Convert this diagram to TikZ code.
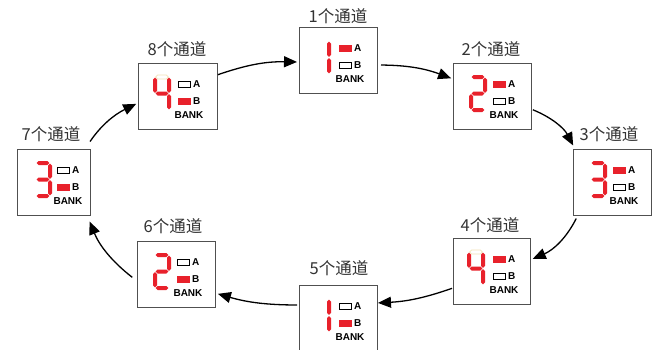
\documentclass[tikz,border=0pt]{standalone}
\usepackage{fontspec}
\setmainfont{Liberation Sans}
\newfontfamily\cjk{Noto Sans CJK SC}
\usetikzlibrary{arrows.meta}
\definecolor{segred}{HTML}{E8212B}
\definecolor{framegray}{HTML}{505050}
\definecolor{labelgray}{HTML}{333333}
\definecolor{ghost}{HTML}{F2E2B6}
\tikzset{
  chbox/.style={draw=framegray, line width=0.8pt, minimum height=66pt, inner sep=0pt, outer sep=0pt},
  segon/.style={fill=segred},
  segghost/.style={draw=ghost, line width=0.6pt},
  indon/.style={fill=segred},
  indoff/.style={draw=black, line width=0.6pt},
  indlbl/.style={inner sep=0pt, anchor=base west, font=\bfseries\fontsize{10}{12}\selectfont},
  banklbl/.style={inner sep=0pt, anchor=base, font=\bfseries\fontsize{10}{12}\selectfont},
  chlbl/.style={inner sep=0pt, text=labelgray, font=\cjk\fontsize{16.5}{19}\selectfont},
  arr/.style={-{Triangle[length=13pt,width=11pt]}, line width=1.3pt, black},
}
% horizontal / vertical hexagonal segment (half thickness 2)
\newcommand\MyHsg[4]{\path[#4] ({#1},{#3}) -- ({#1+2},{#3-2}) -- ({#2-2},{#3-2}) -- ({#2},{#3}) -- ({#2-2},{#3+2}) -- ({#1+2},{#3+2}) -- cycle;}
\newcommand\MyVsg[4]{\path[#4] ({#1},{#2}) -- ({#1+2},{#2+2}) -- ({#1+2},{#3-2}) -- ({#1},{#3}) -- ({#1-2},{#3-2}) -- ({#1-2},{#2+2}) -- cycle;}
\newcommand\MySega{\MyHsg{2.6}{15.4}{2}{segon}}
\newcommand\MySegb{\MyVsg{16}{2.6}{17.9}{segon}}
\newcommand\MySegc{\MyVsg{16}{19.1}{34.4}{segon}}
\newcommand\MySegd{\MyHsg{2.6}{15.4}{35}{segon}}
\newcommand\MySege{\MyVsg{2}{19.1}{34.4}{segon}}
\newcommand\MySegf{\MyVsg{2}{2.6}{17.9}{segon}}
\newcommand\MySegg{\MyHsg{2.6}{15.4}{18.5}{segon}}
\newcommand\MySegga{\MyHsg{2.6}{15.4}{2}{segghost}}
% #1 name, #2 x, #3 y, #4 width, #5 segments, #6 digit x offset, #7 A style, #8 B style
\newcommand\chanbox[8]{%
  \node[chbox, minimum width=#4pt, anchor=north west] (#1) at (#2,#3) {};
  \begin{scope}[shift={(#1.north west)}]
    \begin{scope}[shift={(#6,12)}]
      \foreach \s in {#5}{\csname MySeg\s\endcsname}
    \end{scope}
    \path[#7] (40,18) rectangle (52.5,24.5);
    \path[#8] (40,35) rectangle (52.5,41.5);
    \node[indlbl] (#1A) at (55,24.5) {A};
    \node[indlbl] (#1B) at (55,41.5) {B};
    \node[banklbl] (#1K) at (51,55.5) {BANK};
  \end{scope}}
\begin{document}
\begin{tikzpicture}[x=1pt,y=-1pt]
\useasboundingbox (0,0) rectangle (658,349);
\clip (0,0) rectangle (658,349);
\fill[white] (0,0) rectangle (658,349);

\chanbox{b1}{299}{27}{78}{b,c}{14}{indon}{indoff}
\chanbox{b2}{453}{63}{78}{a,b,g,e,d}{16}{indon}{indoff}
\chanbox{b3}{573}{149}{78}{a,b,g,c,d}{16}{indon}{indoff}
\chanbox{b4}{453}{238}{77}{ga,f,g,b,c}{14}{indon}{indoff}
\chanbox{b5}{299}{285}{78}{b,c}{14}{indoff}{indon}
\chanbox{b6}{137}{241}{78}{a,b,g,e,d}{16}{indoff}{indon}
\chanbox{b7}{17}{149}{73}{a,b,g,c,d}{17}{indoff}{indon}
\chanbox{b8}{138}{63}{79}{ga,f,g,b,c}{15}{indoff}{indon}

\node[chlbl] (l1) at (338,16) {1个通道};
\node[chlbl] (l2) at (491,49) {2个通道};
\node[chlbl] (l3) at (609,134) {3个通道};
\node[chlbl] (l4) at (490,225) {4个通道};
\node[chlbl] (l5) at (339,268) {5个通道};
\node[chlbl] (l6) at (173,226) {6个通道};
\node[chlbl] (l7) at (51,134) {7个通道};
\node[chlbl] (l8) at (177,49) {8个通道};

\draw[arr, shorten <=1pt, shorten >=2pt] ([yshift=-12pt]b8.north east) to[bend left=10] ([yshift=-2pt]b1.west);
\draw[arr, shorten <=4pt, shorten >=2pt] ([yshift=-5pt]b1.east) to[bend left=10] ([yshift=-16pt]b2.north west);
\draw[arr, shorten <=2pt, shorten >=4pt] ([yshift=-46pt]b2.north east) to[bend left=20] ([xshift=2pt]b3.north west);
\draw[arr, shorten <=4pt, shorten >=3pt] ([xshift=5pt]b3.south west) to[bend left=20] ([yshift=11pt]b4.east);
\draw[arr, shorten <=1pt, shorten >=1pt] ([yshift=-17pt]b4.west) to[bend left=8] ([yshift=-18pt]b5.north east);
\draw[arr, shorten <=2pt, shorten >=3pt] ([yshift=-20pt]b5.north west) to[bend left=8] ([yshift=-52pt]b6.north east);
\draw[arr, shorten <=6pt, shorten >=7pt] ([yshift=-7pt]b6.west) to[bend left=15] ([xshift=-3pt]b7.south east);
\draw[arr, shorten <=9pt, shorten >=2pt] ([xshift=-5pt]b7.north east) to[bend left=15] ([yshift=-7pt]b8.west);
\end{tikzpicture}
\end{document}
